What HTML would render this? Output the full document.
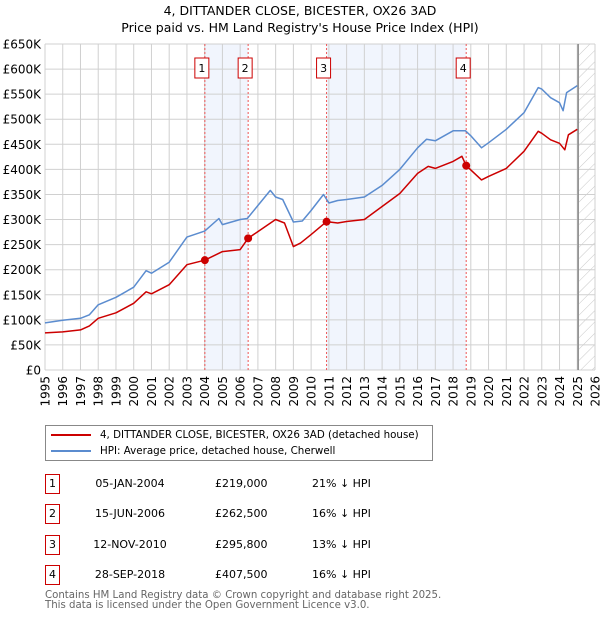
<!DOCTYPE html>
<html><head><meta charset="utf-8"><style>
body{margin:0;background:#fff;font-family:"DejaVu Sans","Liberation Sans",sans-serif;}
#wrap{position:relative;width:600px;height:620px;overflow:hidden;}
.t{position:absolute;white-space:nowrap;color:#000;}
</style></head><body><div id="wrap">
<div class="t" style="left:0;width:600px;text-align:center;top:2px;font-size:12.5px;line-height:17px">4, DITTANDER CLOSE, BICESTER, OX26 3AD<br>Price paid vs. HM Land Registry's House Price Index (HPI)</div>
<svg id="chart" width="600" height="420" style="position:absolute;left:0;top:0" font-family="DejaVu Sans, Liberation Sans, sans-serif"></svg>
<div style="position:absolute;left:45px;top:425px;width:388px;height:36px;border:1px solid #888;box-sizing:border-box">
 <div style="position:absolute;left:5px;top:2px;font-size:10.3px;line-height:15px;white-space:nowrap"><span style="display:inline-block;width:40px;height:2px;background:#cc0000;vertical-align:middle;margin-right:9px"></span>4, DITTANDER CLOSE, BICESTER, OX26 3AD (detached house)</div>
 <div style="position:absolute;left:5px;top:18px;font-size:10.3px;line-height:15px;white-space:nowrap"><span style="display:inline-block;width:40px;height:2px;background:#5b8ccf;vertical-align:middle;margin-right:9px"></span>HPI: Average price, detached house, Cherwell</div>
</div>
<div id="table"></div>
<div class="t" style="left:45px;top:591px;font-size:10.2px;line-height:10px;color:#666">Contains HM Land Registry data © Crown copyright and database right 2025.<br>This data is licensed under the Open Government Licence v3.0.</div>
</div>
<script>
const hpiYears=[1995,1996,1997,1997.5,1998,1999,2000,2000.7,2001,2002,2003,2004,2004.8,2005,2006,2006.4,2007,2007.7,2008,2008.4,2009,2009.5,2010,2010.7,2011,2011.5,2012,2013,2014,2015,2016,2016.5,2017,2018,2018.7,2019,2019.6,2020,2021,2022,2022.8,2023,2023.5,2024,2024.2,2024.4,2025];
const hpiValues=[94,99,103,110,130,145,165,198,193,215,265,277,302,290,300,302,328,358,345,340,295,297,318,350,333,338,340,345,368,400,443,460,457,477,477,467,443,453,480,513,563,560,543,533,517,553,567];
const ppYears=[1995,1996,1997,1997.5,1998,1999,2000,2000.7,2001,2002,2003,2004,2005,2006,2006.45,2007,2008,2008.5,2009,2009.4,2010,2010.87,2011.5,2012,2013,2014,2015,2016,2016.6,2017,2018,2018.5,2018.74,2019,2019.6,2020,2021,2022,2022.8,2023,2023.5,2024,2024.3,2024.5,2025];
const ppValues=[74,76,80,88,103,114,133,156,152,170,210,219,236,240,262.5,276,300,293,246,253,270,295.8,293,296,300,326,352,392,406,402,416,426,407.5,399,379,386,402,436,476,472,459,452,439,469,480];
const saleYears=[2004.01,2006.45,2010.87,2018.74];
const saleValues=[219,262.5,295.8,407.5];
const saleLabels=["1","2","3","4"];
const saleDates=["05-JAN-2004","15-JUN-2006","12-NOV-2010","28-SEP-2018"];
const salePrices=["£219,000","£262,500","£295,800","£407,500"];
const saleDiffs=["21% ↓ HPI","16% ↓ HPI","13% ↓ HPI","16% ↓ HPI"];
const yTicks=[0,50,100,150,200,250,300,350,400,450,500,550,600,650];
const yTickLabels=["£0","£50K","£100K","£150K","£200K","£250K","£300K","£350K","£400K","£450K","£500K","£550K","£600K","£650K"];
const xTicks=[1995,1996,1997,1998,1999,2000,2001,2002,2003,2004,2005,2006,2007,2008,2009,2010,2011,2012,2013,2014,2015,2016,2017,2018,2019,2020,2021,2022,2023,2024,2025,2026];

const X0=45,X1=595,Y0=370,Y1=44;
const xs=y=>X0+(y-1995)/(2026-1995)*(X1-X0);
const ys=v=>Y0-v/650*(Y0-Y1);
const NS="http://www.w3.org/2000/svg";
const svg=document.getElementById('chart');
function mk(tag,attrs,parent){const e=document.createElementNS(NS,tag);for(const k in attrs)e.setAttribute(k,attrs[k]);(parent||svg).appendChild(e);return e;}
for(let i=0;i<saleYears.length;i+=2){
 const r=mk('rect',{x:xs(saleYears[i]),y:Y1,width:xs(saleYears[i+1])-xs(saleYears[i]),height:Y0-Y1,fill:'#f1f5fd'});
 
 
}
const defs=mk('defs',{});
const pat=mk('pattern',{id:'hatch',width:8,height:8,patternUnits:'userSpaceOnUse',patternTransform:'rotate(45)'},defs);
mk('line',{x1:0,y1:0,x2:0,y2:8,stroke:'#c8c8c8','stroke-width':1},pat);
const hr=mk('rect',{x:xs(2025.1),y:Y1,width:X1-xs(2025.1),height:Y0-Y1,fill:'url(#hatch)'});


yTicks.forEach((v,i)=>{
 const l=mk('line',{x1:X0,x2:X1,y1:ys(v),y2:ys(v),stroke:'#d0d0d0','stroke-width':1});
 
 
 const t=mk('text',{x:X0-4,y:ys(v)+4.5,'text-anchor':'end','font-size':12,fill:'#000'});
 t.textContent=yTickLabels[i];
 
 
});
xTicks.forEach(y=>{
 const l=mk('line',{x1:xs(y),x2:xs(y),y1:Y1,y2:Y0,stroke:'#d0d0d0','stroke-width':1});
 
 
 const t=mk('text',{x:0,y:0,'text-anchor':'end','font-size':12,fill:'#000',transform:`translate(${xs(y)+4.5},${Y0+6}) rotate(-90)`});
 t.textContent=y;
 
 
});
const vl=mk('line',{x1:xs(2025.05),x2:xs(2025.05),y1:Y1,y2:Y0,stroke:'#888','stroke-width':1.5});


saleYears.forEach((y,i)=>{
 const l=mk('line',{x1:xs(y),x2:xs(y),y1:Y1,y2:Y0,stroke:'#ee5555','stroke-width':1,'stroke-dasharray':'2,2'});
 
 
 const r=mk('rect',{x:xs(y)-10,y:58,width:14,height:20,fill:'#fff',stroke:'#cc0000','stroke-width':1});
 
 
 const t=mk('text',{x:xs(y)-3,y:72,'text-anchor':'middle','font-size':11,fill:'#000'});
 t.textContent=saleLabels[i];
 
 
});
function line(xa,va,color,name){
 const p=mk('path',{d:xa.map((y,i)=>(i?'L':'M')+xs(y).toFixed(1)+','+ys(va[i]).toFixed(1)).join(''),fill:'none',stroke:color,'stroke-width':1.5,'stroke-linejoin':'round'});
 
 
}
line(hpiYears,hpiValues,'#5b8ccf','hpi-line');
line(ppYears,ppValues,'#cc0000','price-paid-line');
saleYears.forEach((y,i)=>{
 const c=mk('circle',{cx:xs(y),cy:ys(saleValues[i]),r:4,fill:'#cc0000'});
 
 
});
const tb=document.getElementById('table');
const rowY=[474,504,535,565];
saleLabels.forEach((s,i)=>{
 const row=document.createElement('div');
 
 
 row.style.cssText=`position:absolute;left:0;top:${rowY[i]}px;width:600px;height:20px;font-size:11px;line-height:18px`;
 row.innerHTML=`<div style="position:absolute;left:45px;top:0;width:15px;height:20px;border:1px solid #cc0000;box-sizing:border-box;text-align:center;line-height:18px">${s}</div>`+
 `<div style="position:absolute;left:70px;width:120px;text-align:center;top:1px">${saleDates[i]}</div>`+
 `<div style="position:absolute;left:215px;top:1px">${salePrices[i]}</div>`+
 `<div style="position:absolute;left:312px;top:1px">${saleDiffs[i]}</div>`;
 tb.appendChild(row);
});
</script></body></html>
